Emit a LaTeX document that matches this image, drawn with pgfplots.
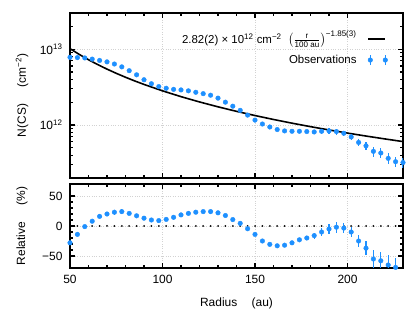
\documentclass[border=0pt]{standalone}
\usepackage{fontspec}
\setmainfont{Liberation Sans}
\setsansfont{Liberation Sans}
\usepackage{amsmath}
\usepackage{pgfplots}
\usepackage{pgfplotstable}
\pgfplotsset{compat=1.18}
\definecolor{obsblue}{RGB}{30,144,255}

% column density, r [au], N [cm^-2], error
\pgfplotstableread{
r N eN
50 7.80e12 0.8e11
54 7.74e12 0.8e11
58 7.66e12 0.8e11
62 7.39e12 0.8e11
66 7.10e12 0.8e11
70 6.80e12 0.9e11
74 6.37e12 1.0e11
78 5.84e12 1.0e11
82 5.20e12 0.8e11
86 4.59e12 0.7e11
90 3.95e12 0.6e11
94 3.50e12 0.5e11
98 3.21e12 0.5e11
102 3.05e12 0.5e11
106 2.95e12 0.4e11
110 2.90e12 0.4e11
114 2.82e12 0.4e11
118 2.70e12 0.4e11
122 2.59e12 0.4e11
126 2.47e12 0.4e11
130 2.26e12 0.4e11
134 2.00e12 0.3e11
138 1.77e12 0.3e11
142 1.56e12 0.3e11
146 1.35e12 0.3e11
150 1.16e12 0.3e11
154 1.03e12 0.3e11
158 9.41e11 0.2e11
162 8.71e11 0.2e11
166 8.35e11 0.2e11
170 8.26e11 0.2e11
174 8.26e11 0.25e11
178 8.19e11 0.33e11
182 8.09e11 0.40e11
186 8.26e11 0.58e11
190 8.35e11 0.67e11
194 8.19e11 0.74e11
198 7.78e11 0.62e11
202 6.96e11 0.56e11
206 5.89e11 0.59e11
210 5.31e11 0.64e11
214 4.49e11 0.67e11
218 4.27e11 0.64e11
222 3.63e11 0.58e11
226 3.28e11 0.52e11
230 3.20e11 0.51e11
}\obsN

% relative residual [%]
\pgfplotstableread{
r rel erel
50 -28 2
54 -14 2
58 -1 2
62 8 2
66 16 2
70 20 3
74 23 4
78 24 4
82 21 3
86 17 3
90 13 2
94 10 2
98 9 2
102 11 2
106 14.5 2
110 18.5 2
114 21 2
118 23 2
122 24 2
126 24 2
130 22 2
134 17.5 2
138 10.7 2
142 4.4 3
146 -4.6 3
150 -14 3
154 -25 3
158 -30.6 3
162 -33 3
166 -32 3
170 -28 3
174 -23 3
178 -20 4
182 -16 5
186 -10 7
190 -5 8
194 -2 9
198 -3.5 8
202 -10 8
206 -25 10
210 -37 12
214 -55 15
218 -58 15
222 -65 16
226 -69 16
230 -85 10
}\obsrel

\pgfplotsset{
  panel/.style={
    scale only axis, width=333bp,
    xmin=50, xmax=230,
    xtick={50,100,150,200}, minor x tick num=4,
    xtick pos=both, ytick pos=both,
    tick align=inside,
    major tick length=5bp, minor tick length=3bp,
    axis line style={line width=1.6bp},
    every tick/.style={black, line width=1.1bp},
    grid=major,
    major grid style={dotted, gray!35, line width=0.6bp},
    tick label style={font=\fontsize{12}{14}\selectfont},
    label style={font=\fontsize{12}{14}\selectfont},
    /pgf/number format/assume math mode=true,
  }
}

\begin{document}
\begin{tikzpicture}
\useasboundingbox (0,0) rectangle (416bp,324bp);

\begin{axis}[panel,
  at={(70bp,146bp)}, anchor=south west, height=165bp,
  ymode=log, ymin=2e11, ymax=3e13,
  ytick={1e12,1e13},
  yticklabels={10\textsuperscript{12},10\textsuperscript{13}},
  minor ytick={2e11,3e11,4e11,5e11,6e11,7e11,8e11,9e11,2e12,3e12,4e12,5e12,6e12,7e12,8e12,9e12,2e13,3e13},
  yticklabel style={xshift=-4bp},
  xticklabels={},
  ylabel={N(CS)\hspace{1.4em}(cm\textsuperscript{−2})},
  ylabel style={at={(axis description cs:-0.144,0.5)}, anchor=center},
  legend plot pos=right,
  legend cell align=right,
  legend style={at={(axis description cs:0.955,0.905)}, anchor=north east,
    draw=none, fill=none, inner sep=0pt, row sep=6bp, column sep=9bp,
    font=\fontsize{11.5}{13}\selectfont},
]
\addplot[black, line width=1.6bp,
  legend image code/.code={\draw[black, line width=1.6bp] (0bp,-1bp) -- (17bp,-1bp);}]
  coordinates {
  (50,1.0166e13) (55,8.523e12) (60,7.256e12) (65,6.257e12) (70,5.455e12)
  (75,4.802e12) (80,4.261e12) (85,3.809e12) (90,3.427e12) (100,2.820e12)
  (110,2.364e12) (120,2.013e12) (130,1.736e12) (140,1.513e12) (150,1.332e12)
  (160,1.182e12) (170,1.0566e12) (180,9.506e11) (190,8.601e11) (200,7.822e11)
  (210,7.148e11) (220,6.559e11) (230,6.041e11)
};
\addlegendentry{2.82(2) × 10\textsuperscript{12} cm\textsuperscript{−2}\ \ \(\left(\frac{\text{r}}{\text{100 au}}\right)^{\text{−1.85(3)}}\)}
\addplot[only marks, mark=*, mark size=2.3bp, color=obsblue,
  mark options={draw=obsblue, fill=obsblue},
  legend image code/.code={
    \draw[obsblue, line width=1.1bp] (2bp,-5bp) -- (2bp,5bp) (17bp,-5bp) -- (17bp,5bp);
    \fill[obsblue] (2bp,0bp) circle[radius=2.3bp] (17bp,0bp) circle[radius=2.3bp];},
  error bars/.cd, y dir=both, y explicit,
  error bar style={line width=1.1bp, obsblue}, error mark=none]
  table[x=r, y=N, y error=eN] {\obsN};
\addlegendentry{Observations}
\end{axis}

\begin{axis}[panel,
  at={(70bp,56bp)}, anchor=south west, height=84bp,
  ymin=-70, ymax=70,
  ytick={-50,0,50}, yticklabels={−50,0,50},
  minor y tick num=4,
  yticklabel style={xshift=-4bp},
  xticklabel style={yshift=-4bp},
  ylabel={Relative\hspace{1.4em}(\%)},
  ylabel style={at={(axis description cs:-0.144,0.5)}, anchor=center},
  xlabel={Radius\hspace{1.2em}(au)},
  xlabel style={at={(axis description cs:0.5,-0.417)}, anchor=center},
]
\addplot[black, line width=2bp, line cap=round, dash pattern=on 0pt off 7.4bp]
  coordinates {(50,0) (230,0)};
\addplot[only marks, mark=*, mark size=2.3bp, color=obsblue,
  mark options={draw=obsblue, fill=obsblue},
  error bars/.cd, y dir=both, y explicit,
  error bar style={line width=1.1bp, obsblue}, error mark=none]
  table[x=r, y=rel, y error=erel] {\obsrel};
\end{axis}
\end{tikzpicture}
\end{document}
